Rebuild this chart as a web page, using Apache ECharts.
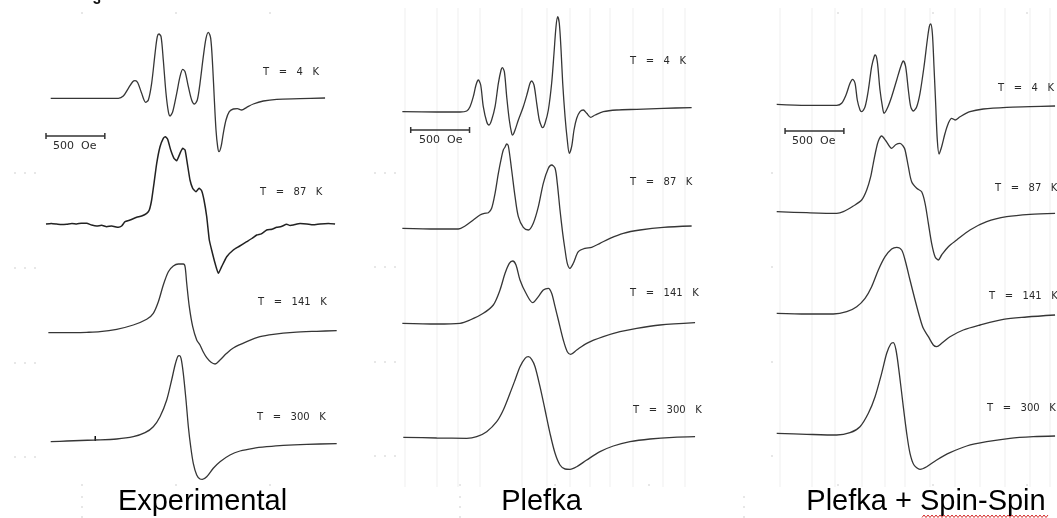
<!DOCTYPE html>
<html><head><meta charset="utf-8">
<script src="https://cdn.jsdelivr.net/npm/echarts@6/dist/echarts.min.js"></script>
<style>html,body{margin:0;padding:0;background:#fff}#c{width:1057px;height:518px}</style>
</head><body><div id="c"></div><script>
// ---------- DATA (field in Oe from left edge of each panel, signal in a.u.) ----------
const PANEL_TITLES = ['Experimental', 'Plefka', 'Plefka + Spin-Spin'];
const TEMP_LABELS = ['T = 4 K', 'T = 87 K', 'T = 141 K', 'T = 300 K'];
const SCALE_BAR_OE = 500;
const SCALE_BAR_TEXT = '500 Oe';

// Experimental
const exp4K_field = [40,615,657,700,737,757,780,813,847,870,898,927,946,960,978,997,1020,1040,1054,1077,1111,1139,1162,1182,1210,1238,1261,1286,1309,1337,1360,1380,1400,1417,1431,1445,1459,1470,1488,1507,1530,1558,1592,1626,1663,1706,1762,1847,1961,2159,2372];
const exp4K_signal = [0,0,2.3,10,16.6,17.6,15.6,5,-4,-1.7,15,45,61.6,64.3,61.6,38.3,5,-13.4,-17.7,-13.4,5,21.6,29,26.6,11.6,-1.7,-5.7,-1.7,15,41.6,60,66,60,31.6,-1.7,-31.7,-48.4,-53.4,-48.4,-35,-21.7,-13.4,-10.7,-10.4,-11.7,-9,-5.7,-2.7,-1,-0.4,0.3];
const exp87K_field = [0,45,91,130,176,220,261,300,346,388,431,473,516,558,615,643,672,714,771,813,856,878,898,918,941,969,997,1014,1034,1060,1088,1111,1139,1162,1182,1201,1224,1247,1275,1301,1323,1343,1366,1388,1408,1437,1465,1493,1536,1592,1640,1706,1750,1791,1830,1876,1920,1961,2000,2046,2075,2102,2160,2216,2270,2329,2400,2457];
const exp87K_signal = [0,0.6,0,-0.6,-0.3,0.5,0,0.8,0.7,-1,-2,-1.3,-2.7,-2,-3.3,-2,2.3,4,6.7,8,10.7,14,24,40.7,60.7,77.3,85.7,87.3,84.7,74,65.7,63.3,70.7,75.7,74,60.7,44,35.7,32.3,35.7,33.3,24,7.3,-16,-26,-39.3,-49.3,-42.7,-32.7,-26,-22.5,-17.7,-14.5,-11,-9.8,-6,-5.2,-3.3,-2.5,-0.3,-1.4,-1,0.4,0,-0.8,0,0.5,0];
const exp141K_field = [20,176,346,459,601,742,856,912,955,997,1040,1082,1125,1167,1182,1196,1218,1247,1281,1309,1337,1366,1403,1437,1479,1536,1592,1706,1819,1932,2102,2301,2471];
const exp141K_signal = [0,0,0.4,1,3.4,7.7,13.4,19.4,31,47.7,61,66.7,68.7,68.7,66,49.4,26,6,-7.3,-12.3,-19.3,-25,-29.6,-31.3,-27.3,-20.6,-15.3,-9,-4,-1.6,0.4,1.4,2];
const exp300K_field = [40,176,411,601,742,842,912,969,1026,1068,1097,1119,1133,1148,1167,1190,1210,1230,1252,1281,1309,1329,1366,1422,1479,1564,1649,1762,1876,2017,2216,2471];
const exp300K_signal = [0,0.7,1.7,2.7,5,9,15,25,41.7,61.7,76.7,85,86,83.4,68.4,41.7,15,-5,-21.6,-33.3,-37.3,-37.6,-35,-26.6,-20,-13.3,-9.3,-6.6,-5,-3.6,-2.6,-2];

// Plefka
const plefka4K_field = [3,295,493,550,578,606,629,649,669,691,720,740,762,791,819,842,853,870,890,912,932,941,961,989,1031,1065,1088,1102,1122,1145,1167,1187,1196,1216,1244,1272,1292,1309,1323,1337,1352,1366,1386,1405,1422,1442,1462,1485,1513,1541,1570,1604,1641,1711,1825,1995,2221,2462];
const plefka4K_signal = [0,-0.3,-0.3,0.7,5,15,26.7,31.7,26.7,5,-10,-13.3,-8.3,5,28.4,41.7,44,40,15,-8.3,-21.6,-23.3,-18.3,-8.3,5,18.4,28.4,30.7,26.7,8.4,-8.3,-15,-16,-11.6,1.7,28.4,58.4,85,95,88.4,61.7,28.4,-5,-28.3,-41.6,-35,-18.3,-6.6,0,1.7,-1.6,-5.6,-3.3,0,1.7,2.4,3.4,4];
const plefka87K_field = [3,295,479,536,606,663,700,734,762,791,819,847,861,876,890,904,932,961,989,1031,1074,1116,1159,1201,1244,1272,1301,1320,1343,1366,1386,1405,1428,1456,1499,1556,1612,1683,1768,1881,2023,2221,2462];
const plefka87K_signal = [0,-0.7,-0.7,2.3,8.3,13.3,15,15.6,20,35,55,71.6,78.3,81.3,84.3,82.3,58.3,31.6,11.6,1,-1.7,5,21.6,45,60,63.3,60,45,18.3,-5,-21.7,-35,-40,-35,-23.4,-20,-19,-15,-10,-5,-1.7,1,2.3];
const plefka141K_field = [3,295,493,578,691,776,833,876,912,941,969,1003,1054,1111,1159,1201,1244,1272,1301,1329,1371,1405,1434,1485,1570,1711,1853,1995,2193,2491];
const plefka141K_signal = [0,-0.7,0,3.3,10,18.3,33.3,50,60,62.3,58.3,43.3,30,20.6,26.6,33.3,35,30,16.6,3.3,-16.7,-28.4,-31,-26.7,-20,-13.4,-8.4,-5,-1.7,0.6];
const plefka300K_field = [11,295,550,635,720,805,861,918,961,1003,1046,1074,1102,1131,1173,1216,1258,1301,1343,1386,1428,1485,1570,1683,1796,1938,2108,2306,2491];
const plefka300K_signal = [0,-0.7,-1,0.6,5.6,15.6,27.3,44,57.3,70.6,79,80.6,78,70.6,50.6,27.3,4,-16,-27.7,-31.7,-32,-29.4,-22.7,-14.4,-8.7,-4.4,-1.7,0,0.6];

// Plefka + Spin-Spin
const spin4K_field = [6,261,516,558,595,629,652,672,691,714,728,757,785,813,836,844,861,884,907,918,946,983,1026,1060,1082,1102,1125,1145,1167,1196,1224,1258,1286,1303,1315,1329,1343,1357,1371,1386,1408,1437,1465,1493,1522,1564,1649,1762,1961,2159,2372];
const spin4K_signal = [0,-1,-1,1,9.3,21,25,21,4.3,-5.7,-7.4,-2.4,14.3,37.6,48.3,49.3,42.6,14.3,-4,-9,-4,7.6,24.3,37.6,43.3,37.6,14.3,-2.4,-6.7,-2.4,11,37.6,64.3,77.6,80.3,71,37.6,1,-35.7,-49.7,-42.4,-29,-19,-14,-15.7,-12.4,-7.4,-4.7,-3,-2.4,-1.7];
const spin87K_field = [6,261,516,572,657,728,771,805,827,850,870,898,935,983,1020,1054,1080,1097,1125,1153,1196,1238,1267,1295,1323,1352,1380,1408,1465,1536,1649,1791,1961,2159,2372];
const spin87K_signal = [0,-1,-1.6,0,5.7,11.7,21.7,35,48.4,61.7,70.7,75.7,70.7,63.4,67.2,68.4,65.7,61.7,45,30,23.4,20,8.4,-11.6,-31.6,-45,-48.3,-43.3,-35,-28.3,-18.3,-10,-5,-2.6,-1.6];
const spin141K_field = [6,261,487,601,686,757,813,870,927,983,1026,1068,1097,1139,1182,1224,1252,1295,1337,1366,1408,1479,1592,1734,1932,2131,2372];
const spin141K_signal = [0,-0.7,-0.7,1.6,6.6,15,26.6,43.3,56.6,64.3,66,63.3,53.3,33.3,13.3,-5,-15,-23.4,-31.7,-33.4,-30,-23.4,-16.7,-11.7,-6,-3.7,-1.7];
const spin300K_field = [6,261,516,629,714,785,842,898,941,975,997,1020,1048,1082,1111,1139,1173,1224,1281,1366,1479,1621,1791,1989,2187,2372];
const spin300K_signal = [0,-1,-1.7,0.6,6.6,20,36.6,60,80,89.3,90.6,83.3,60,26.6,0,-20,-31.7,-36,-33.4,-26.7,-19.4,-12.7,-8.4,-5,-3.4,-2.7];

// scale bar placement (start field in Oe, level in a.u. of the T=4 K trace)
const SCALE_START = [0, 74, 77];
const SCALE_LEVEL = [-37.7, -18.3, -26.7];

// ---------- LAYOUT ----------
const OE_PER_PX = 8.5;
const HALF = 40; // grid half-height in px (= a.u.); curves drawn unclipped beyond it
const PANEL_LEFT = [46, 402, 776];
const PANEL_WIDTH = [294, 294, 281];
const BASELINE_Y = [[98.3, 224, 332.7, 441.7], [111.7, 228.3, 323.3, 437.3], [104.3, 211.7, 313.3, 433.3]];
const LABEL_POS = [
  [[263, 72], [260, 192], [258, 302], [257, 417]],
  [[630, 61], [630, 182], [630, 293], [633, 410]],
  [[998, 88], [995, 188], [989, 296], [987, 408]]
];
const SCALE_TEXT_POS = [[53, 146], [419, 140], [792, 141]];
const TITLE_POS = [[202.5, 502], [541.5, 502], [926, 502]];

const TRACES = [
  [[exp4K_field, exp4K_signal], [exp87K_field, exp87K_signal], [exp141K_field, exp141K_signal], [exp300K_field, exp300K_signal]],
  [[plefka4K_field, plefka4K_signal], [plefka87K_field, plefka87K_signal], [plefka141K_field, plefka141K_signal], [plefka300K_field, plefka300K_signal]],
  [[spin4K_field, spin4K_signal], [spin87K_field, spin87K_signal], [spin141K_field, spin141K_signal], [spin300K_field, spin300K_signal]]
];

const grid = [], xAxis = [], yAxis = [], series = [];
const TRACE_COLOR = '#363636';
for (let p = 0; p < 3; p++) {
  for (let t = 0; t < 4; t++) {
    const gi = p * 4 + t;
    grid.push({left: PANEL_LEFT[p], width: PANEL_WIDTH[p], top: BASELINE_Y[p][t] - HALF, height: 2 * HALF});
    xAxis.push({type: 'value', gridIndex: gi, min: 0, max: PANEL_WIDTH[p] * OE_PER_PX, show: false});
    yAxis.push({type: 'value', gridIndex: gi, min: -HALF, max: HALF, show: false});
    const [f, s] = TRACES[p][t];
    const noisy = (p === 0 && t === 1);
    series.push({
      type: 'line', xAxisIndex: gi, yAxisIndex: gi,
      data: f.map((v, i) => [v, s[i]]),
      showSymbol: false, smooth: noisy ? 0.15 : 0.3, clip: false, silent: true,
      lineStyle: {color: noisy ? '#222' : TRACE_COLOR, width: noisy ? 1.5 : 1.3}
    });
  }
  // scale bar in the T = 4 K grid
  series.push({
    type: 'line', xAxisIndex: p * 4, yAxisIndex: p * 4,
    data: [[SCALE_START[p], SCALE_LEVEL[p]], [SCALE_START[p] + SCALE_BAR_OE, SCALE_LEVEL[p]]],
    symbol: 'rect', symbolSize: [1.5, 6], showSymbol: true, silent: true, clip: false,
    lineStyle: {color: '#333', width: 1.5}, itemStyle: {color: '#333'}
  });
}

const graphic = [];
const txt = (text, x, y, font, fill, align, valign) => ({
  type: 'text', x, y, silent: true,
  style: {text, font, fill, align, textAlign: align, verticalAlign: valign, textVerticalAlign: valign}
});
// faint scan stripes
const STRIPES = [405, 437, 458, 480, 522, 547, 570, 590, 610, 633, 663, 685, 780, 812, 835, 862, 885, 905, 930, 955, 980, 1005, 1030, 1050];
STRIPES.forEach(x => graphic.push({type: 'line', silent: true, z: -10, shape: {x1: x, y1: 8, x2: x, y2: 487}, style: {stroke: '#f5f5f5', lineWidth: 1.5}}));
// guide dots
const DOTS = [[82,13],[176,13],[270,13],[838,13],[933,13],[1027,13],[82,485],[176,485],[270,485],[460,485],[555,485],[649,485],[838,485],[933,485],[1027,485],
  [15,173],[25,173],[35,173],[15,268],[25,268],[35,268],[15,363],[25,363],[35,363],[15,457],[25,457],[35,457],
  [375,173],[385,173],[395,173],[375,267],[385,267],[395,267],[375,362],[385,362],[395,362],[375,456],[385,456],[395,456],
  [772,173],[772,267],[772,362],[772,456],[82,497],[82,507],[82,517],[460,497],[460,507],[460,517],[744,497],[744,507],[744,517]];
DOTS.forEach(([x, y]) => graphic.push({type: 'circle', silent: true, shape: {cx: x, cy: y, r: 0.7}, style: {fill: '#bdbdbd'}}));
// temperature labels
for (let p = 0; p < 3; p++) {
  for (let t = 0; t < 4; t++) {
    const [x, y] = LABEL_POS[p][t];
    graphic.push(txt(TEMP_LABELS[t].split(' ').join('   '), x, y, '10px "DejaVu Sans"', '#2a2a2a', 'left', 'middle'));
  }
  const [sx, sy] = SCALE_TEXT_POS[p];
  graphic.push(txt(SCALE_BAR_TEXT.replace(' ', '  '), sx, sy, '11px "DejaVu Sans"', '#2a2a2a', 'left', 'middle'));
  const [tx, ty] = TITLE_POS[p];
  graphic.push(txt(PANEL_TITLES[p], tx, ty, '29px "Liberation Sans"', '#000', 'center', 'middle'));
}
// red spell-check underline under "Spin-Spin"
const wave = [];
for (let x = 922, k = 0; x <= 1049; x += 2, k++) wave.push([x, k % 2 ? 515 : 517.5]);
graphic.push({type: 'polyline', silent: true, shape: {points: wave}, style: {stroke: '#d42a2a', lineWidth: 1, fill: null}});
// small blip on the 300 K experimental baseline and cut glyph at top
graphic.push({type: 'rect', silent: true, shape: {x: 94.5, y: 436, width: 1.5, height: 5}, style: {fill: '#111'}});
graphic.push(txt('3', 97, 0, 'bold 14px "Liberation Sans"', '#111', 'center', 'middle'));

const chart = echarts.init(document.getElementById('c'), null, {renderer: 'canvas'});
chart.setOption({animation: false, backgroundColor: '#fff', grid, xAxis, yAxis, series, graphic});
</script></body></html>
